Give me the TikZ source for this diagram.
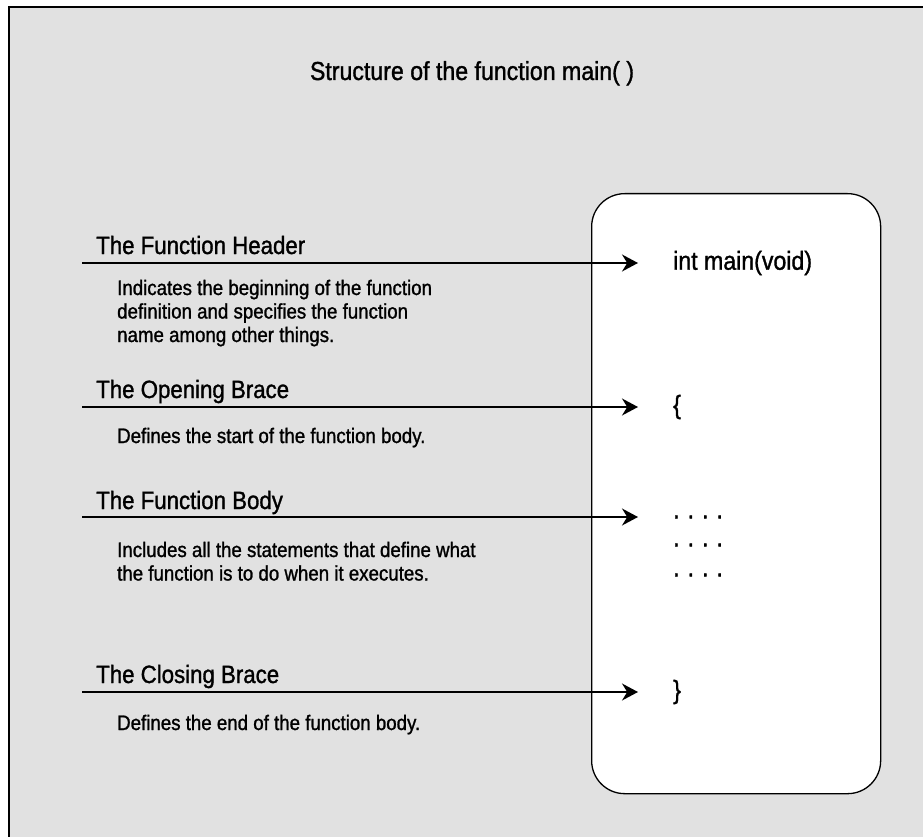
\documentclass[tikz,border=0pt]{standalone}
\usepackage{fontspec}
\setmainfont{Liberation Sans}[FakeStretch=0.89, FakeBold=1.2]
\usepackage{tikz}
\usetikzlibrary{arrows.meta, positioning, calc}
\definecolor{panelgray}{RGB}{225,225,225}

\begin{document}
\begin{tikzpicture}[x=1pt, y=-1pt,
  heading/.style={anchor=base west, inner sep=0pt, font=\fontsize{25}{30}\selectfont},
  explain/.style={anchor=base west, inner sep=0pt, font=\fontsize{21}{23.5}\selectfont},
  code/.style={anchor=west, inner sep=0pt, font=\fontsize{26}{30}\selectfont},
  flow/.style={-{Stealth[length=16pt, width=17pt]}, line width=1.5pt, shorten >=35pt}]
\useasboundingbox (0,0) rectangle (923,837);
\clip (0,0) rectangle (923,837);

% Panel
\draw[line width=2pt, fill=panelgray] (9,7) rectangle (940,860);

% Title
\node[anchor=base, inner sep=0pt, font=\fontsize{26}{30}\selectfont] (title) at (472,80) {Structure of the function main( )};

% Function box
\node[draw, rectangle, rounded corners=33pt, line width=1.3pt, fill=white,
      minimum width=289pt, minimum height=600pt, anchor=north west] (fbox) at (591,193) {};

% Code lines
\node[code] (intmain) at (673,263) {int main(void)};
\node[code] (openbr) at (673,407) {\{};
\node[code] (dotsa) at (673,517) {.\hspace{8pt}.\hspace{8pt}.\hspace{8pt}.};
\node[code] (dotsb) at (673,545) {.\hspace{8pt}.\hspace{8pt}.\hspace{8pt}.};
\node[code] (dotsc) at (673,575) {.\hspace{8pt}.\hspace{8pt}.\hspace{8pt}.};
\node[code] (closebr) at (673,692) {\}};

% Left edge of the arrows
\coordinate (lft) at (82,0);

% The function header
\node[heading] (hdr) at (96,254) {The Function Header};
\node[explain] (hdrtxt) at (117,295) {
\begin{tabular}[t]{@{}l@{}}
Indicates the beginning of the function \\
definition and specifies the function \\
name among other things.
\end{tabular}
};
\draw[flow] (lft |- intmain.west) -- (intmain.west);

% The opening brace
\node[heading] (opn) at (96,398) {The Opening Brace};
\node[explain] (opntxt) at (117,443) {Defines the start of the function body.};
\draw[flow] (lft |- openbr.west) -- (openbr.west);

% The function body
\node[heading] (bdy) at (96,509) {The Function Body};
\node[explain] (bdytxt) at (117,557) {
\begin{tabular}[t]{@{}l@{}}
Includes all the statements that define what \\
the function is to do when it executes.
\end{tabular}
};
\draw[flow] (lft |- dotsa.west) -- (dotsa.west);

% The closing brace
\node[heading] (cls) at (96,683) {The Closing Brace};
\node[explain] (clstxt) at (117,730) {Defines the end of the function body.};
\draw[flow] (lft |- closebr.west) -- (closebr.west);
\end{tikzpicture}
\end{document}
